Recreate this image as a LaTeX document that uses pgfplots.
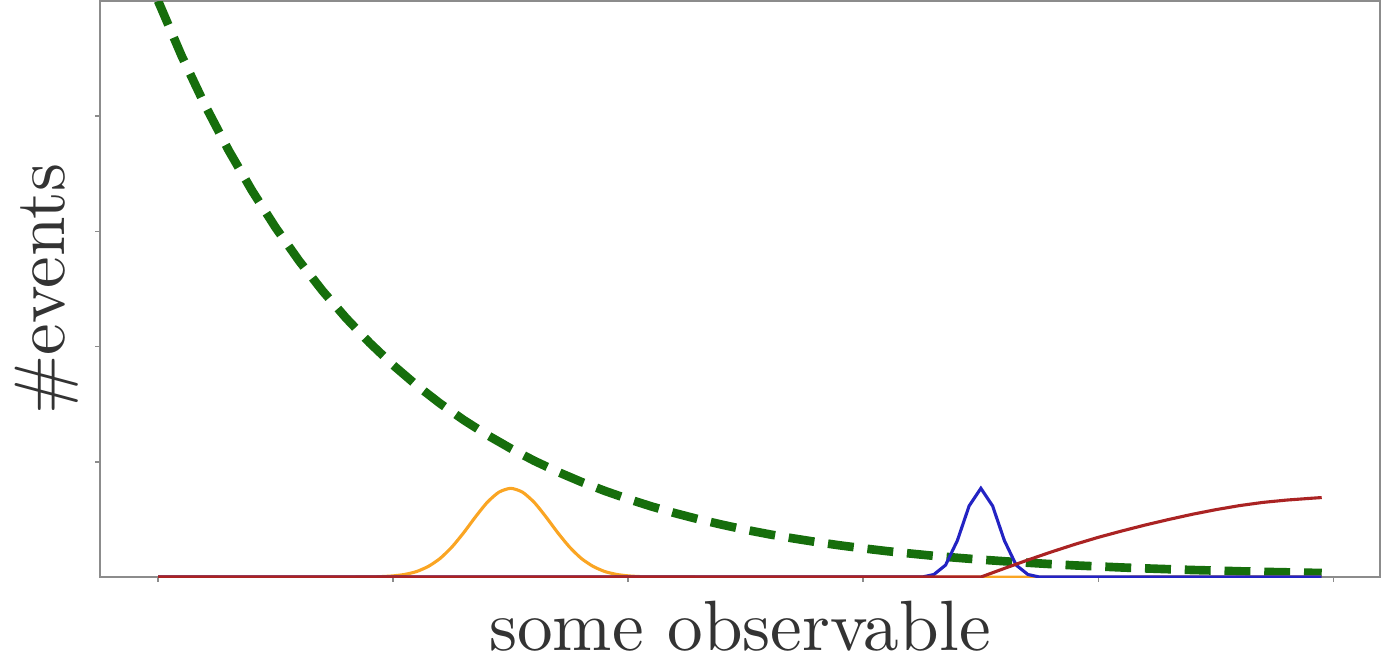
\documentclass[border=0pt]{standalone}
\usepackage{fontspec}
\usepackage{pgfplots}
\pgfplotsset{compat=1.18}
\newfontfamily\labelfont{lmroman10-regular.otf}

\definecolor{bgreen}{RGB}{22,110,12}
\definecolor{corange}{RGB}{250,165,35}
\definecolor{cblue}{RGB}{35,35,195}
\definecolor{cred}{RGB}{170,35,35}

\begin{document}
\begin{tikzpicture}
\begin{axis}[
    scale only axis,
    width=370.2pt, height=166.6pt,
    xmin=-0.2475, xmax=5.1975,
    ymin=0, ymax=5,
    xtick={0,1,2,3,4,5},
    ytick={1,2,3,4},
    xticklabels={}, yticklabels={},
    xtick pos=left, ytick pos=left,
    tick align=outside,
    major tick length=1.4pt,
    every tick/.style={black!45, line width=0.5pt},
    axis line style={black!45, line width=0.8pt},
    xlabel={some observable},
    ylabel={\#events},
    label style={font=\labelfont\fontsize{20.6}{24}\selectfont, text=black!80, inner sep=0pt},
    xlabel style={at={(axis description cs:0.5,-0.128)}, anchor=base},
    ylabel style={at={(axis description cs:-0.0273,0.5)}, anchor=base, rotate=0},
]
% background, dashed
\addplot[bgreen, line width=2.5pt, dash pattern=on 7.5pt off 4pt] coordinates {
(0,5.000) (0.1,4.524) (0.2,4.094) (0.3,3.704) (0.4,3.352) (0.5,3.033)
(0.6,2.744) (0.7,2.483) (0.8,2.247) (0.9,2.033) (1.0,1.839) (1.1,1.664)
(1.2,1.506) (1.3,1.363) (1.4,1.233) (1.5,1.116) (1.6,1.009) (1.7,0.913)
(1.8,0.826) (1.9,0.748) (2.0,0.677) (2.1,0.612) (2.2,0.554) (2.3,0.501)
(2.4,0.454) (2.5,0.410) (2.6,0.371) (2.7,0.336) (2.8,0.304) (2.9,0.275)
(3.0,0.249) (3.1,0.225) (3.2,0.204) (3.3,0.184) (3.4,0.167) (3.5,0.151)
(3.6,0.137) (3.7,0.124) (3.8,0.112) (3.9,0.101) (4.0,0.092) (4.1,0.083)
(4.2,0.075) (4.3,0.068) (4.4,0.061) (4.5,0.056) (4.6,0.050) (4.7,0.045)
(4.8,0.041) (4.9,0.037) (4.95,0.035)
};
% first peak
\addplot[corange, line width=0.9pt, smooth, tension=0.4] coordinates {
(0,0) (0.9,0) (0.95,0.004) (1.0,0.010) (1.05,0.023) (1.1,0.048) (1.15,0.093)
(1.2,0.162) (1.25,0.261) (1.3,0.385) (1.35,0.522) (1.4,0.648) (1.45,0.737)
(1.5,0.770) (1.55,0.737) (1.6,0.648) (1.65,0.522) (1.7,0.385) (1.75,0.261)
(1.8,0.162) (1.85,0.093) (1.9,0.048) (1.95,0.023) (2.0,0.010) (2.05,0.004)
(2.1,0) (4.95,0)
};
% second peak
\addplot[cblue, line width=0.9pt] coordinates {
(0,0) (3.25,0) (3.3,0.022) (3.35,0.104) (3.4,0.317) (3.45,0.617) (3.5,0.770)
(3.55,0.617) (3.6,0.317) (3.65,0.104) (3.7,0.022) (3.75,0) (4.95,0)
};
% rising component
\addplot[cred, line width=0.9pt] coordinates {
(0,0) (3.5,0) (3.6,0.075) (3.7,0.148) (3.8,0.218) (3.9,0.284) (4.0,0.345)
(4.1,0.400) (4.2,0.452) (4.3,0.500) (4.4,0.545) (4.5,0.585) (4.6,0.620)
(4.7,0.648) (4.8,0.668) (4.9,0.683) (4.95,0.690)
};
\coordinate (sw) at (rel axis cs:0,0);
\coordinate (ne) at (rel axis cs:1,1);
\end{axis}
\pgfresetboundingbox
\path ([shift={(-28.9pt,-23.7pt)}]sw) rectangle ([shift={(0.9pt,0.3pt)}]ne);
\end{tikzpicture}
\end{document}
